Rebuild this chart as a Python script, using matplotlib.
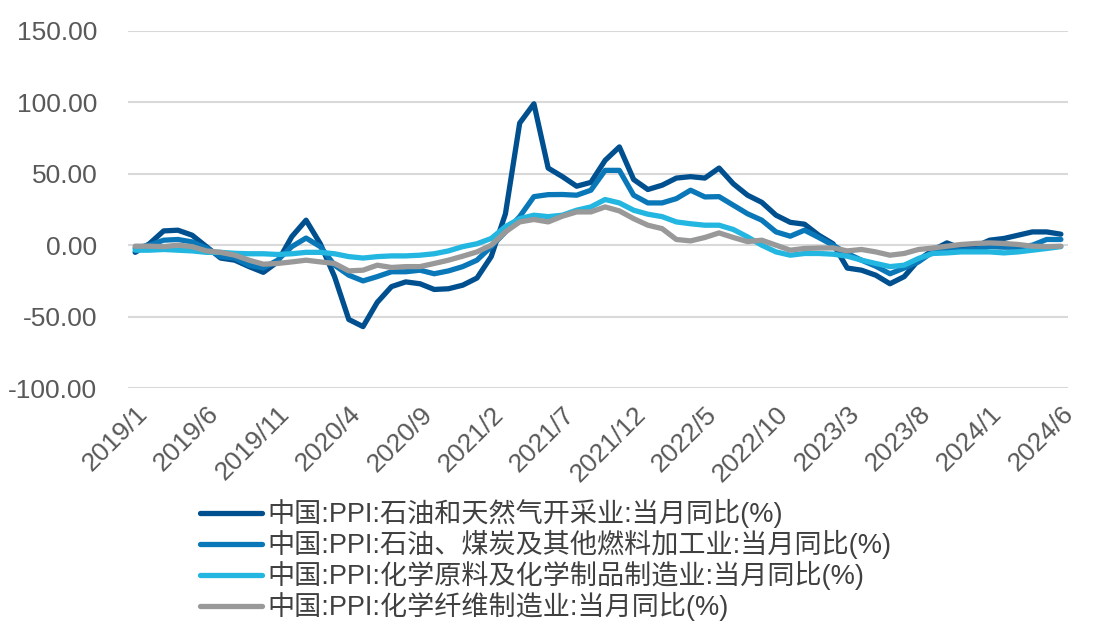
import numpy as np
import matplotlib
matplotlib.use("Agg")
import matplotlib.pyplot as plt

plt.rcParams['font.family'] = ['Liberation Sans', 'Noto Sans CJK SC', 'DejaVu Sans']

# ---- data ----
months = [f"{y}/{m}" for y in range(2019, 2025) for m in range(1, 13)][:66]

oil_gas = [-5, 1, 10, 10.5, 7, -1, -9, -10.5, -15, -19, -11.7, 6, 17.5, 1, -22,
           -52, -57, -40, -29, -25.7, -27, -31, -30.5, -28, -23, -8, 22, 85.5, 99, 54,
           48, 41.3, 44, 59.4, 68.8, 46, 39, 42, 47, 48, 47, 54, 43, 35, 30,
           21, 16, 14.7, 7, 1, -16, -17.5, -21, -27, -22, -10.5, -3.5, 1.6, -2.3, -1,
           3.5, 4.7, 7, 9.3, 9.3, 7.7]
refining = [-2, 0, 3.5, 4, 2.3, -2, -8, -9, -14, -16, -10.5, -1, 5, -1, -14,
            -21, -25, -22, -18.6, -18.6, -17.5, -20, -18, -15, -10.5, -1, 9.3, 20, 34, 35.4,
            35.5, 35, 38.5, 52.4, 52.4, 35, 29.6, 29.6, 32.6, 38.5, 33.8, 34, 28, 22, 17.5,
            9.3, 6.3, 10.5, 5.4, 0, -5.8, -10.5, -14.7, -20, -16, -11.7, -4.7, -3.5, -3.5, -3,
            -1, -1.4, -1.4, 0, 4, 4]
chem_raw = [-3.5, -3.5, -3, -3.5, -4, -5, -5, -5.7, -6, -6, -6.5, -6, -5, -5, -6,
            -8, -9, -8, -7.5, -7.5, -7, -6, -4, -1, 1, 4.7, 13, 18.6, 21, 20,
            21, 24.5, 26.8, 32, 29.6, 24.5, 21.7, 20, 16.3, 15, 14, 14, 11, 5.8, 0,
            -4.7, -7, -5.8, -5.8, -6.3, -7.7, -10.5, -12.8, -15, -14, -9.3, -5.8, -5.4, -4.7, -4.7,
            -4.7, -5.4, -4.7, -3.5, -2.3, -1]
chem_fiber = [-0.7, -0.7, -1, 0, -1, -4, -5, -7, -10.5, -13.3, -12.8, -11.7, -10.5, -11.7, -12.8,
              -18, -17.5, -14, -15.6, -15, -15, -12.8, -10.5, -7.7, -4.7, 0, 9.3, 16.3, 18, 16.3,
              20.3, 23.3, 23.3, 26.8, 24, 18.6, 14, 11.6, 4, 3, 5.4, 8.6, 5.4, 2.5, 3.5,
              0, -3.5, -2.3, -2, -1.9, -4, -3, -4.7, -7, -5.8, -3, -2, -0.7, 0.5, 1.2,
              1.6, 1.2, 0.5, -0.7, -1, -0.7]

labels = ["中国:PPI:石油和天然气开采业:当月同比(%)",
          "中国:PPI:石油、煤炭及其他燃料加工业:当月同比(%)",
          "中国:PPI:化学原料及化学制品制造业:当月同比(%)",
          "中国:PPI:化学纤维制造业:当月同比(%)"]
colors = ["#00508f", "#0a78b8", "#22b6e0", "#999999"]

# ---- plot ----
fig = plt.figure(figsize=(11, 6.22), dpi=100)
ax = fig.add_axes([0.1164, 0.3762, 0.8545, 0.574])

x = np.arange(len(months))
for ys, lab, c in zip([oil_gas, refining, chem_raw, chem_fiber], labels, colors):
    ax.plot(x, ys, color=c, lw=3.8, label=lab, solid_joinstyle='round',
            solid_capstyle='round')

ax.set_ylim(-100, 150)
ax.set_yticks(np.arange(-100, 151, 50))
ax.set_yticklabels([f"{v:.2f}" for v in np.arange(-100, 151, 50)])
ax.set_xlim(-0.5, len(months) - 0.5)
ax.set_xticks(x[::5])
ax.set_xticklabels(months[::5], rotation=45, ha='right', rotation_mode='anchor')

ax.grid(axis='y', color='#d9d9d9', lw=1.5)
ax.set_axisbelow(True)
for s in ax.spines.values():
    s.set_visible(False)
ax.tick_params(length=0, labelsize=19, colors='#595959')
ax.tick_params(axis='y', pad=22)
ax.tick_params(axis='x', pad=10)

leg = fig.legend(loc='upper left', bbox_to_anchor=(0.172, 0.2146), frameon=False,
                 fontsize=19.5, handlelength=2.3, handletextpad=0.2,
                 labelspacing=0.07, borderaxespad=0)
for t in leg.get_texts():
    t.set_color('#404040')

fig.savefig("out.png", dpi=100)
